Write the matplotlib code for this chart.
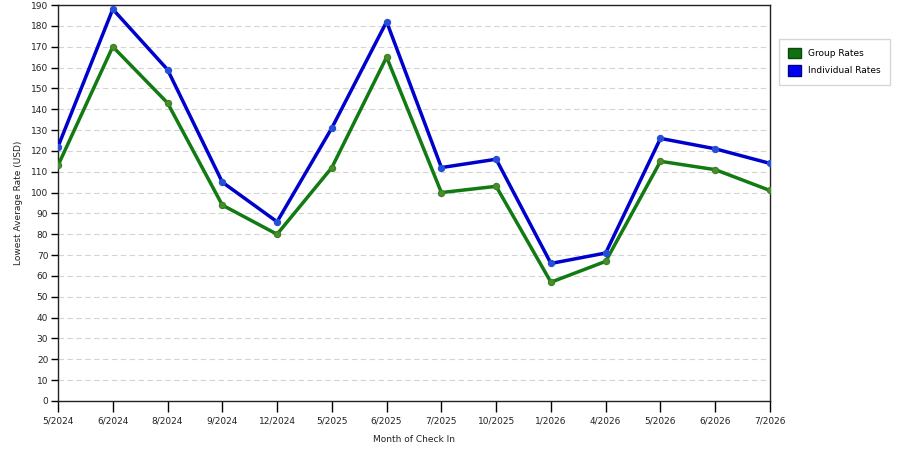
import matplotlib
matplotlib.use("Agg")
import matplotlib.pyplot as plt
from matplotlib.patches import Patch

months = ["5/2024", "6/2024", "8/2024", "9/2024", "12/2024", "5/2025", "6/2025",
          "7/2025", "10/2025", "1/2026", "4/2026", "5/2026", "6/2026", "7/2026"]
group_rates = [113, 170, 143, 94, 80, 112, 165, 100, 103, 57, 67, 115, 111, 101]
individual_rates = [122, 188, 159, 105, 86, 131, 182, 112, 116, 66, 71, 126, 121, 114]
yticks = list(range(0, 191, 10))

plt.rcParams['font.family'] = ['DejaVu Sans']
fig = plt.figure(figsize=(9, 4.5), dpi=100)
ax = fig.add_axes([58/900, 1 - 401/450, (770-58)/900, (401-5)/450])

x = list(range(len(months)))
green = "#127a12"
blue = "#0000cc"
ax.plot(x, group_rates, color=green, lw=2.5, zorder=3)
ax.plot(x, group_rates, 'o', ms=4.5, color="#4c8c2c", mec="#3a8024", mew=0.8, zorder=4)
ax.plot(x, individual_rates, color=blue, lw=2.5, zorder=3)
ax.plot(x, individual_rates, 'o', ms=4.5, color="#2250dd", mec="#2a4fd0", mew=0.8, zorder=4)

ax.set_xlim(0, len(months) - 1)
ax.set_ylim(0, 190)
ax.set_xticks(x)
ax.set_xticklabels(months, fontsize=6.5, color="#222222")
ax.set_yticks(yticks)
ax.set_yticklabels([str(v) for v in yticks], fontsize=6.5, color="#222222")
ax.tick_params(axis='x', length=8, width=1, direction='out', pad=3)
ax.tick_params(axis='y', length=5, width=1, direction='out', pad=2)
ax.grid(axis='y', color="#d4d4d4", linestyle=(0, (5, 3)), linewidth=0.8, zorder=0)
ax.set_axisbelow(True)
for s in ax.spines.values():
    s.set_color("#222222")
    s.set_linewidth(1)

ax.set_xlabel("Month of Check In", fontsize=6.5, labelpad=7, color="#222222")
ax.set_ylabel("Lowest Average Rate (USD)", fontsize=6.5, labelpad=6, color="#222222")

handles = [Patch(facecolor="#107010", edgecolor="#0a4a0a", label="Group Rates"),
           Patch(facecolor="#0000ee", edgecolor="#000088", label="Individual Rates")]
leg = fig.legend(handles=handles, loc='upper left', bbox_to_anchor=(779/900, 1 - 39/450),
                 fontsize=6.5, frameon=True, fancybox=False, handlelength=1.4, handleheight=1.4,
                 handletextpad=0.8, borderpad=1.0, labelspacing=0.75, borderaxespad=0)
leg.get_frame().set_edgecolor("#cccccc")
leg.get_frame().set_linewidth(1)

fig.savefig("out.png", dpi=100)
